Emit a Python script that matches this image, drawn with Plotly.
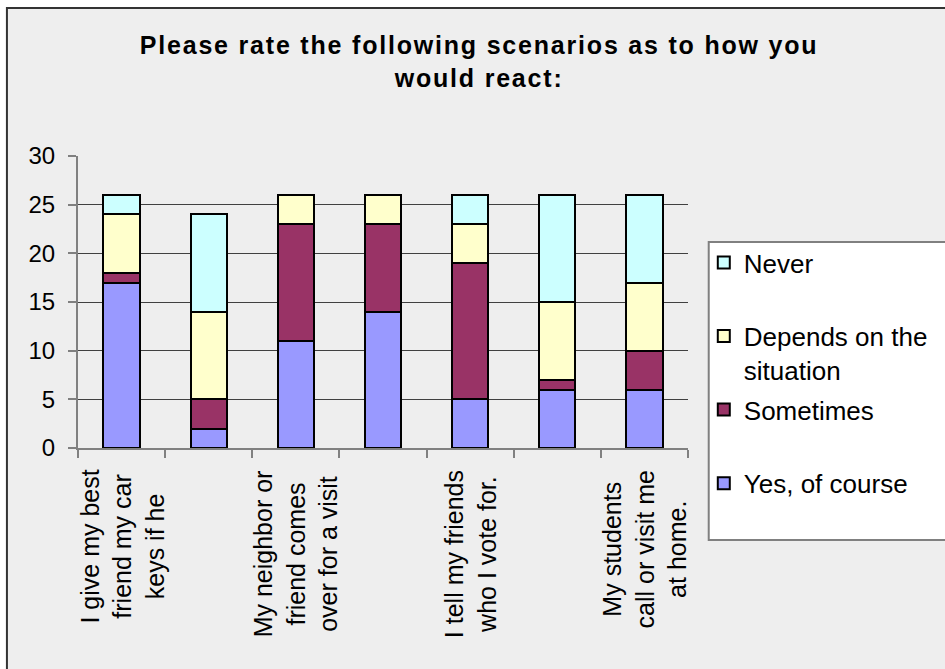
import plotly.graph_objects as go

# Survey: how respondents would react to each scenario (stacked counts)
positions = [1, 2, 3, 4, 5, 6, 7]
scenario_labels = [
    "I give my best<br>friend my car<br>keys if he",
    "",
    "My neighbor or<br>friend comes<br>over for a visit",
    "",
    "I tell my friends<br>who I vote for.",
    "",
    "My students<br>call or visit me<br>at home.",
]

series_names = ["Yes, of course", "Sometimes", "Depends on the<br>situation", "Never"]
yes_of_course = [17, 2, 11, 14, 5, 6, 6]
sometimes = [1, 3, 12, 9, 14, 1, 4]
depends = [6, 9, 3, 3, 4, 8, 7]
never = [2, 10, 0, 0, 3, 11, 9]
series_values = [yes_of_course, sometimes, depends, never]
series_colors = ["#9999FF", "#993366", "#FFFFCC", "#CCFFFF"]

y_ticks = [0, 5, 10, 15, 20, 25, 30]

FONT = "Liberation Sans, Arial, sans-serif"
W, H = 945, 669
PLOT_L, PLOT_R, PLOT_T, PLOT_B = 78, 696, 156, 448


def px_x(px):
    return (px - PLOT_L) / (PLOT_R - PLOT_L)


def px_y(py):
    return (PLOT_B - py) / (PLOT_B - PLOT_T)


def legend_name(i, name):
    # single-line entries above the bottom one get an empty second line so
    # that all legend rows sit on an even pitch
    if i > 0 and "<br>" not in name:
        return name + "<br>\u00a0"
    return name


n_series = len(series_names)
fig = go.Figure()
for i, (name, vals, col) in enumerate(zip(series_names, series_values, series_colors)):
    fig.add_trace(go.Bar(
        x=positions, y=vals, name=legend_name(i, name),
        legendgroup=f"g{i}", legendrank=n_series - i,
        marker=dict(color=col, line=dict(color="black", width=2)),
    ))

# Category labels, rotated and centred under their bars
for pos, lab in zip(positions, scenario_labels):
    if lab:
        fig.add_annotation(
            x=pos, y=0, xref="x", yref="y", text=lab, showarrow=False,
            textangle=-90, align="center", xanchor="center", yanchor="top",
            yshift=-20, font=dict(family=FONT, size=25, color="black"),
        )

spaced = '<span style="letter-spacing:1.8px">{}</span>'
title_text = (spaced.format("Please rate the following scenarios as to how you")
              + "<br>" + spaced.format("would react:"))

fig.update_layout(
    width=W, height=H,
    margin=dict(l=PLOT_L, r=W - PLOT_R, t=PLOT_T, b=H - PLOT_B, pad=0),
    paper_bgcolor="white",
    plot_bgcolor="rgba(0,0,0,0)",
    barmode="stack",
    bargap=0.585,
    font=dict(family=FONT, color="black"),
    title=dict(
        text=title_text, x=0.507, xanchor="center", xref="container",
        y=1 - 54 / H, yanchor="top", yref="container",
        font=dict(family=FONT, size=25, color="black", weight="bold"),
    ),
    xaxis=dict(
        range=[0.5, 7.5], tickmode="array",
        tickvals=[p - 0.5 for p in positions] + [positions[-1] + 0.5],
        showticklabels=False, ticks="outside", ticklen=8, tickwidth=2,
        tickcolor="#808080", showgrid=False, zeroline=False,
        showline=True, linecolor="#808080", linewidth=2, fixedrange=True,
    ),
    yaxis=dict(
        range=[0, 30], tickmode="array", tickvals=y_ticks,
        ticks="outside", ticklen=8, tickwidth=2, tickcolor="#808080",
        ticklabelstandoff=8,
        tickfont=dict(family=FONT, size=24, color="black"),
        showgrid=True, gridcolor="#404040", gridwidth=1, zeroline=False,
        showline=True, linecolor="#808080", linewidth=2, fixedrange=True,
    ),
    legend=dict(
        x=px_x(712), xanchor="left", xref="paper",
        y=px_y(239), yanchor="top", yref="paper",
        traceorder="grouped", tracegroupgap=3, valign="top",
        bgcolor="rgba(0,0,0,0)", borderwidth=0,
        font=dict(family=FONT, size=26, color="black"),
    ),
    shapes=[
        # chart area background with its top/left frame
        dict(type="rect", xref="paper", yref="paper", layer="below",
             x0=px_x(6), x1=px_x(1000), y0=px_y(8), y1=px_y(720),
             fillcolor="#EEEEEE", line=dict(color="#333333", width=2)),
        # legend box
        dict(type="rect", xref="paper", yref="paper", layer="below",
             x0=px_x(717), x1=px_x(1000), y0=px_y(242), y1=px_y(540),
             fillcolor="white", line=dict(color="#808080", width=2)),
    ],
)

fig.write_html("out.html")
